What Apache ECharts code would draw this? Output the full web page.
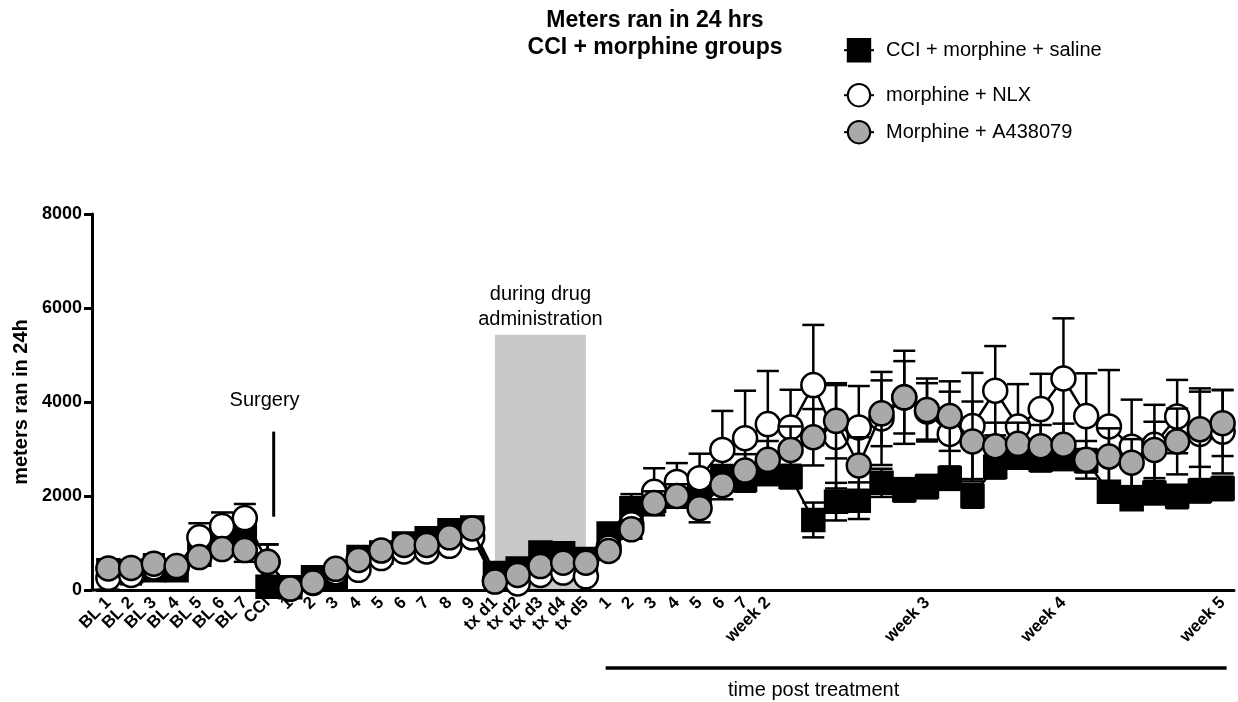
<!DOCTYPE html>
<html><head><meta charset="utf-8">
<script src="https://cdn.jsdelivr.net/npm/echarts@6/dist/echarts.min.js"></script>
<style>html,body{margin:0;padding:0;background:#fff}#c{width:1238px;height:702px}</style>
</head><body><div id="c"></div>
<script>
const categories = ["BL 1","BL 2","BL 3","BL 4","BL 5","BL 6","BL 7","CCI",
  "1","2","3","4","5","6","7","8","9",
  "tx d1","tx d2","tx d3","tx d4","tx d5",
  "1","2","3","4","5","6","7","week 2","","","","","","","week 3","","","","","","week 4","","","","","","","week 5"];

const salineMean = [420,400,420,420,750,1000,1240,70,
  60,270,230,700,800,990,1100,1270,1330,
  360,460,800,780,660,
  1200,1740,1900,2000,2050,2410,2340,2480,2410,1490,1880,1900,2280,2130,2200,2380,2000,2620,2840,2770,2800,2750,2090,1930,2070,1990,2110,2160];
const salineSem = [100,100,120,100,150,150,250,100,
  60,80,80,100,100,100,100,120,120,
  80,80,100,100,100,
  150,300,250,200,200,250,250,250,250,370,400,390,300,250,250,250,250,250,250,250,250,250,200,200,250,250,250,250];

const nlxMean = [260,320,480,480,1120,1360,1530,600,
  30,150,380,430,680,820,820,940,1120,
  200,140,320,370,290,
  900,1400,2090,2300,2380,2980,3230,3530,3460,4360,3260,3460,3650,4100,3800,3320,3490,4240,3480,3850,4500,3700,3480,3050,3090,3690,3320,3370];
const nlxSem = [250,200,250,150,300,290,300,370,
  60,60,80,80,80,80,80,80,100,
  80,80,80,80,80,
  200,300,500,400,520,830,1010,1130,800,1280,1100,880,990,990,600,900,1130,950,900,750,1280,910,1200,1000,850,780,970,890];

const a43Mean = [460,470,560,510,700,870,850,600,
  30,160,450,640,840,960,960,1120,1310,
  180,320,510,580,580,
  830,1290,1850,2000,1740,2230,2540,2770,2980,3250,3600,2650,3760,4100,3830,3700,3160,3060,3110,3060,3090,2770,2840,2710,2980,3160,3420,3550];
const a43Sem = [150,150,200,120,150,150,250,370,
  60,60,80,80,80,80,80,80,100,
  80,80,80,80,80,
  150,200,250,250,300,300,350,400,500,600,800,600,700,770,670,740,850,500,450,450,450,400,600,500,600,700,800,700];

const seriesNames = ["CCI + morphine + saline","morphine + NLX","Morphine + A438079"];
const drugWindow = [[17, 21, 5430]];
const surgeryMark = [[7, 1560, 3370, 4040]];
const postTreatment = [[22, 49]];

const FONT = '"Liberation Sans", Arial, Helvetica, sans-serif';
const chart = echarts.init(document.getElementById('c'), null, {renderer: 'canvas'});

function errSeries(mean, sem, z) {
  return {
    type: 'custom', z: z, silent: true, animation: false,
    data: mean.map((m, i) => [i, m, sem[i]]),
    encode: {x: 0, y: 1},
    renderItem: function (params, api) {
      const i = api.value(0), m = api.value(1), e = api.value(2);
      const top = api.coord([i, m + e]);
      const bot = api.coord([i, Math.max(0, m - e)]);
      const cw = 11;
      const st = {stroke: '#000', lineWidth: 2.5};
      return {type: 'group', children: [
        {type: 'line', shape: {x1: top[0], y1: top[1], x2: bot[0], y2: bot[1]}, style: st},
        {type: 'line', shape: {x1: top[0] - cw, y1: top[1], x2: top[0] + cw, y2: top[1]}, style: st},
        {type: 'line', shape: {x1: bot[0] - cw, y1: bot[1], x2: bot[0] + cw, y2: bot[1]}, style: st}
      ]};
    }
  };
}

function lineSeries(name, data, symbol, size, fill, z) {
  return {
    type: 'line', name: name, data: data, z: z,
    symbol: symbol, symbolSize: size, showAllSymbol: true,
    lineStyle: {color: '#000', width: 2.5},
    itemStyle: {color: fill, borderColor: '#000', borderWidth: 2.5},
    emphasis: {disabled: true}, animation: false
  };
}

function legendAt(name, top) {
  return {
    data: [name], orient: 'vertical', left: 838, top: top,
    itemWidth: 30, itemHeight: 28, selectedMode: false,
    textStyle: {fontFamily: FONT, fontSize: 20, color: '#000', padding: [0, 0, 0, 7]}
  };
}

const option = {
  animation: false,
  backgroundColor: '#fff',
  grid: {left: 97, right: 4, top: 214, bottom: 112, containLabel: false},
  legend: [legendAt(seriesNames[0], 33), legendAt(seriesNames[1], 78), legendAt(seriesNames[2], 115)],
  xAxis: {
    type: 'category', data: categories, boundaryGap: true,
    axisLine: {lineStyle: {color: '#000', width: 3}},
    axisTick: {alignWithLabel: true, interval: 0, length: 8, lineStyle: {color: '#000', width: 3}},
    axisLabel: {interval: 0, rotate: 45, fontFamily: FONT, fontSize: 17, fontWeight: 'bold', color: '#000', margin: 10}
  },
  yAxis: {
    type: 'value', min: 0, max: 8000, interval: 2000, offset: 5,
    name: 'meters ran in 24h', nameLocation: 'middle', nameGap: 55,
    nameTextStyle: {fontFamily: FONT, fontSize: 20, fontWeight: 'bold', color: '#000'},
    axisLine: {show: true, lineStyle: {color: '#000', width: 3}},
    axisTick: {show: true, length: 8, lineStyle: {color: '#000', width: 3}},
    axisLabel: {fontFamily: FONT, fontSize: 18, fontWeight: 'bold', color: '#000', margin: 10,
      formatter: function (v) { return String(v); }},
    splitLine: {show: false}
  },
  graphic: [
    {type: 'text', x: 655, y: 7, style: {text: 'Meters ran in 24 hrs\nCCI + morphine groups', align: 'center', verticalAlign: 'top', font: 'bold 23px ' + FONT, lineHeight: 27, fill: '#000'}},
    {type: 'line', shape: {x1: 90.5, y1: 590, x2: 98, y2: 590}, style: {stroke: '#000', lineWidth: 3}}
  ],
  series: [
    {
      type: 'custom', z: 0, silent: true, data: drugWindow, encode: {x: 0, y: 2},
      renderItem: function (params, api) {
        const a = api.coord([api.value(0), api.value(2)]);
        const b = api.coord([api.value(1), 0]);
        return {type: 'group', children: [
          {type: 'rect', shape: {x: a[0], y: a[1], width: b[0] - a[0], height: b[1] - a[1]}, style: {fill: '#c8c8c8'}},
          {type: 'text', style: {text: 'during drug\nadministration', x: (a[0] + b[0]) / 2, y: a[1] - 3, align: 'center', verticalAlign: 'bottom', font: '20px ' + FONT, lineHeight: 25, fill: '#000'}}
        ]};
      }
    },
    {
      type: 'custom', z: 1, silent: true, data: surgeryMark, encode: {x: 0, y: 1},
      renderItem: function (params, api) {
        const bw = api.size([1, 0])[0];
        const lo = api.coord([api.value(0), api.value(1)]);
        const hi = api.coord([api.value(0), api.value(2)]);
        const tx = api.coord([api.value(0), api.value(3)]);
        const x = lo[0] + bw * 0.27;
        return {type: 'group', children: [
          {type: 'line', shape: {x1: x, y1: lo[1], x2: x, y2: hi[1]}, style: {stroke: '#000', lineWidth: 3}},
          {type: 'text', style: {text: 'Surgery', x: tx[0] - 3, y: tx[1], align: 'center', verticalAlign: 'middle', font: '20px ' + FONT, fill: '#000'}}
        ]};
      }
    },
    {
      type: 'custom', z: 1, silent: true, data: postTreatment, encode: {x: 0},
      renderItem: function (params, api) {
        const a = api.coord([api.value(0), 0]);
        const b = api.coord([api.value(1), 0]);
        return {type: 'group', children: [
          {type: 'line', shape: {x1: a[0] - 3, y1: a[1] + 78, x2: b[0] + 4, y2: a[1] + 78}, style: {stroke: '#000', lineWidth: 3.5}},
          {type: 'text', style: {text: 'time post treatment', x: a[0] + 205, y: a[1] + 100, align: 'center', verticalAlign: 'middle', font: '20px ' + FONT, fill: '#000'}}
        ]};
      }
    },
    errSeries(salineMean, salineSem, 2),
    lineSeries(seriesNames[0], salineMean, 'rect', 22, '#000', 3),
    errSeries(nlxMean, nlxSem, 4),
    lineSeries(seriesNames[1], nlxMean, 'circle', 24, '#ffffff', 5),
    errSeries(a43Mean, a43Sem, 6),
    lineSeries(seriesNames[2], a43Mean, 'circle', 24, '#a9a9a9', 7)
  ]
};
chart.setOption(option);
</script></body></html>
